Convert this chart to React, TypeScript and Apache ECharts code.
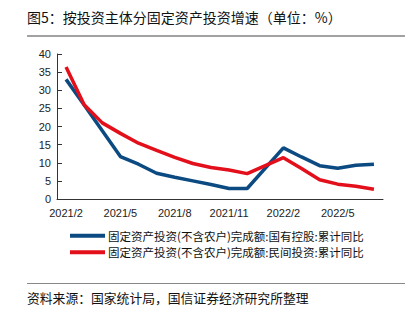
import React, { useEffect, useRef } from "react";
import * as echarts from "echarts";

const categories = [
  "2021/2", "2021/3", "2021/4", "2021/5", "2021/6", "2021/7", "2021/8", "2021/9",
  "2021/10", "2021/11", "2021/12", "2022/1", "2022/2", "2022/3", "2022/4", "2022/5",
  "2022/6", "2022/7",
];
const stateHolding = [33.0, 25.9, 18.8, 11.7, 9.6, 7.1, 6.0, 5.0, 4.0, 2.9, 2.9, null, 14.1, 11.6, 9.2, 8.5, 9.3, 9.6];
const privateInv = [36.4, 26.0, 21.0, 18.1, 15.4, 13.4, 11.5, 9.8, 8.7, 8.0, 7.0, null, 11.4, 8.4, 5.3, 4.1, 3.5, 2.7];
const seriesNames = [
  "固定资产投资(不含农户)完成额:国有控股:累计同比",
  "固定资产投资(不含农户)完成额:民间投资:累计同比",
];
const titleText = "图5：按投资主体分固定资产投资增速（单位：%）";
const sourceText = "资料来源：国家统计局，国信证券经济研究所整理";

const FONT = "'Liberation Sans', 'Noto Sans CJK SC', sans-serif";
const CJK = "'Noto Sans CJK SC', 'Liberation Sans', sans-serif";

export default function App() {
  const ref = useRef<HTMLDivElement>(null);
  useEffect(() => {
    if (!ref.current) return;
    const chart = echarts.init(ref.current, undefined, { renderer: "svg" });
    const axisColor = "#333";
    chart.setOption({
      animation: false,
      backgroundColor: "#fff",
      title: {
        text: titleText,
        left: 22,
        top: 5,
        textStyle: { fontFamily: CJK, fontSize: 14, fontWeight: "normal", color: "#111" },
      },
      grid: { left: 57, right: 37, top: 54, bottom: 123, containLabel: false },
      legend: {
        orient: "vertical",
        left: 65,
        top: 225,
        itemWidth: 35,
        itemHeight: 4,
        itemGap: 5,
        icon: "rect",
        textStyle: { fontFamily: CJK, fontSize: 11.5, color: "#111", padding: [0, 0, 0, -2] },
        data: seriesNames,
      },
      xAxis: {
        type: "category",
        data: categories,
        boundaryGap: true,
        axisLine: { lineStyle: { color: axisColor, width: 1 } },
        axisTick: { inside: true, interval: 2, length: 5, lineStyle: { color: axisColor } },
        axisLabel: { interval: 2, color: "#222", fontFamily: FONT, fontSize: 11, margin: 8 },
        splitLine: { show: false },
      },
      yAxis: {
        type: "value",
        min: 0,
        max: 40,
        interval: 5,
        axisLine: { show: true, lineStyle: { color: axisColor, width: 1 } },
        axisTick: { show: true, inside: true, length: 5, lineStyle: { color: axisColor } },
        axisLabel: { color: "#222", fontFamily: FONT, fontSize: 11, margin: 6 },
        splitLine: { show: false },
      },
      series: [
        {
          name: seriesNames[0],
          type: "line",
          data: stateHolding,
          connectNulls: true,
          showSymbol: false,
          symbol: "none",
          lineStyle: { color: "#0c4a82", width: 3.5 },
          itemStyle: { color: "#0c4a82" },
        },
        {
          name: seriesNames[1],
          type: "line",
          data: privateInv,
          connectNulls: true,
          showSymbol: false,
          symbol: "none",
          lineStyle: { color: "#e3101c", width: 3.5 },
          itemStyle: { color: "#e3101c" },
        },
      ],
      graphic: [
        {
          type: "line",
          shape: { x1: 27, y1: 36, x2: 405, y2: 36 },
          style: { stroke: "#444", lineWidth: 1 },
        },
        {
          type: "line",
          shape: { x1: 27, y1: 283.5, x2: 405, y2: 283.5 },
          style: { stroke: "#888", lineWidth: 1 },
        },
        {
          type: "text",
          left: 27,
          top: 291,
          style: { text: sourceText, font: `12.8px ${CJK}`, fill: "#111" },
        },
      ],
    });
    return () => chart.dispose();
  }, []);
  return <div ref={ref} style={{ width: 420, height: 322, position: "absolute", left: 0, top: 0 }} />;
}
